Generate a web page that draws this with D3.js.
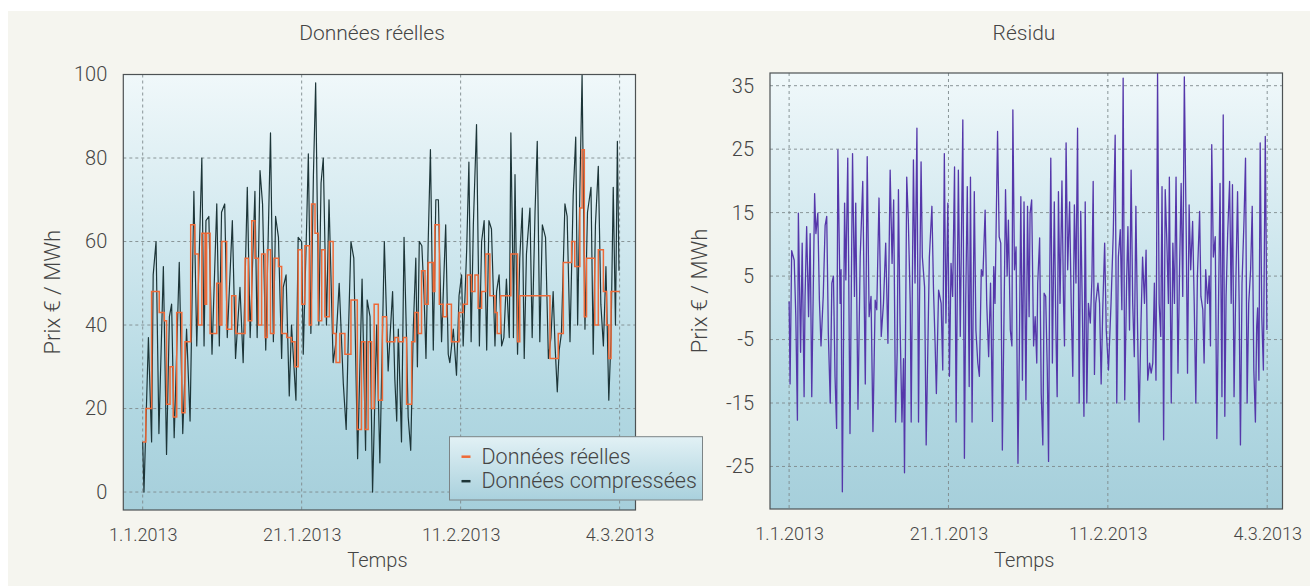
<!DOCTYPE html>
<html>
<head>
<meta charset="utf-8">
<script src="https://cdn.jsdelivr.net/npm/d3@7"></script>
<style>
  body { margin: 0; background: #f5f5ef; }
  svg text { font-family: Roboto, "Liberation Sans", Arial, sans-serif; font-weight: 300; fill: #454545; }
</style>
</head>
<body>
<svg id="chart" width="1310" height="586"></svg>
<script>
// x values are hours since 1.1.2013 00:00
const tickHours = [0, 500, 1000, 1500];
const tickLabels = ["1.1.2013", "21.1.2013", "11.2.2013", "4.3.2013"];
const priceTicks = [0, 20, 40, 60, 80, 100];
const residuTicks = [-25, -15, -5, 5, 15, 25, 35];

// Données compressées (dark line)
const compressed = [
    [0,12],[4,0],[18,37],[28,12],[33,52],[42,60],[51,14],[65,54],[75,9],[84,42],[91,45],[99,13],
    [115,55],[126,14],[138,39],[149,17],[161,72],[170,35],[186,80],[193,35],[199,65],[208,66],
    [218,33],[233,69],[241,35],[248,67],[258,69],[266,37],[282,65],[292,32],[306,49],[316,31],
    [329,73],[338,37],[353,72],[360,37],[369,77],[377,69],[387,34],[395,62],[402,86],[411,36],
    [418,66],[427,61],[437,32],[442,49],[451,52],[461,23],[468,40],[482,22],[489,61],[500,60],
    [505,33],[516,65],[521,81],[529,38],[537,76],[544,98],[554,40],[561,74],[568,80],[578,40],
    [586,70],[599,31],[608,36],[618,50],[631,26],[640,15],[647,38],[655,60],[664,56],[676,8],
    [690,51],[701,10],[706,46],[715,42],[723,0],[736,40],[746,7],[760,60],[772,29],[780,40],
    [786,48],[793,27],[799,17],[804,39],[814,12],[822,61],[830,36],[835,18],[843,10],[851,39],
    [859,56],[864,30],[870,60],[878,59],[885,47],[891,32],[898,60],[905,82],[914,34],[922,70],
    [930,70],[940,36],[953,64],[961,33],[966,31],[977,39],[987,28],[995,47],[1003,52],[1008,35],
    [1019,58],[1026,79],[1033,36],[1040,64],[1050,88],[1059,35],[1066,60],[1074,65],[1082,34],
    [1089,65],[1097,63],[1108,35],[1113,48],[1121,52],[1129,35],[1136,37],[1144,51],[1153,37],
    [1158,86],[1165,50],[1166,37],[1171,76],[1179,33],[1186,56],[1194,68],[1200,32],[1207,57],
    [1218,68],[1225,37],[1234,67],[1241,84],[1249,36],[1257,64],[1267,61],[1276,32],[1284,37],
    [1291,48],[1297,35],[1304,24],[1310,34],[1317,38],[1328,69],[1335,66],[1344,36],[1354,71],
    [1362,85],[1368,40],[1375,72],[1382,100],[1391,39],[1399,67],[1410,73],[1417,33],[1424,64],
    [1433,78],[1441,45],[1449,35],[1457,54],[1466,22],[1473,37],[1480,73],[1487,40],[1493,84],
    [1498,53]
];

// Données réelles (step line)
const real = [
    [0,12],[10,20],[28,48],[52,43],[68,41],[75,21],[86,30],[96,18],[107,43],[123,19],[133,36],
    [151,64],[164,57],[175,40],[186,62],[196,45],[201,62],[212,38],[233,50],[243,40],[249,60],
    [264,39],[280,47],[293,38],[322,56],[332,41],[343,65],[353,56],[364,40],[374,57],[385,37],
    [392,58],[402,38],[413,56],[427,54],[437,38],[453,37],[468,36],[479,30],[489,58],[500,45],
    [510,59],[524,40],[531,69],[542,62],[552,41],[563,58],[573,42],[587,60],[599,38],[608,31],
    [620,38],[636,33],[655,46],[675,15],[688,36],[699,15],[709,36],[720,20],[728,45],[741,22],
    [754,42],[767,36],[793,37],[804,36],[820,37],[830,21],[846,36],[856,43],[867,38],[877,53],
    [888,45],[898,55],[914,48],[919,64],[933,45],[945,42],[956,45],[971,36],[995,43],[1008,45],
    [1021,52],[1034,48],[1045,52],[1055,44],[1066,48],[1079,57],[1092,47],[1108,43],[1115,38],
    [1126,47],[1158,57],[1179,36],[1186,47],[1281,32],[1307,38],[1323,55],[1349,60],[1359,54],
    [1375,68],[1382,82],[1389,42],[1396,56],[1422,40],[1433,58],[1449,48],[1459,40],[1466,32],
    [1473,48],[1500,48]
];

// Résidu
const residu = [
    [0,1],[3,-12],[8,9],[16,7.5],[21,-1.4],[26,-17.7],[29,14.9],[36,-7],[41,10.2],[47,-14],
    [50,1.8],[55,12.8],[61,-1.4],[66,11.7],[71,-14],[80,18],[84,11.7],[90,14.9],[95,1.2],
    [100,-6],[107,1.8],[113,13],[118,14.4],[123,-4],[129,-15],[134,3.9],[139,5],[144,-10.8],
    [149,-19],[153,24.9],[160,0.7],[163,6],[167,-29],[174,16.5],[178,4.4],[184,23.6],
    [191,-19.8],[199,24.3],[205,1.8],[209,16.5],[216,-16],[223,8],[231,19.9],[239,-12],
    [245,23.8],[251,-1.4],[257,1.8],[263,-19.5],[270,1.2],[275,-0.3],[282,17.3],[289,-4.5],
    [296,0.7],[303,10.2],[310,-5.6],[317,21.7],[323,7],[328,17],[334,-18],[339,-7],[343,18.6],
    [348,-2.4],[354,-18],[359,-8],[362,-26],[369,20.6],[374,13.8],[380,0.7],[383,-18],
    [390,23.3],[395,3.9],[401,28.3],[406,-18],[409,0.2],[414,23],[418,8],[425,3.3],[430,-21.6],
    [435,-7],[440,8],[448,16],[453,2.8],[458,-5.6],[462,-13.5],[469,2.8],[477,0.7],[482,-9.8],
    [487,24.3],[492,-2.4],[498,16.5],[503,-10.8],[508,7],[513,1.8],[519,22.2],[524,-18],
    [531,21.7],[537,-4.5],[545,29.6],[550,-23.7],[554,0.7],[559,19.1],[565,-12.4],[569,20.6],
    [574,-18],[581,18.3],[586,-3.5],[592,-8.7],[597,-10.8],[603,6],[608,5],[615,15.4],[620,0.7],
    [626,-7.7],[632,3.9],[638,-17.9],[642,6.5],[646,0.7],[654,27.8],[659,11.2],[664,10.2],
    [669,-22.4],[676,6],[679,18.6],[684,5],[688,13.8],[694,-3.5],[699,-6],[702,31.2],[707,6],
    [712,9.6],[718,-24.5],[722,-8],[727,17.5],[732,-11.4],[737,16.7],[743,-14.5],[748,16],
    [753,-1.4],[756,14.9],[761,17],[767,-6],[772,-1.4],[777,-8.7],[780,3.9],[786,11],
    [791,-13.5],[796,-21.6],[800,2.3],[805,1.8],[810,-9.8],[814,-24.2],[817,0.7],[821,23.6],
    [826,-8.7],[832,16.7],[837,-3.5],[841,-14],[845,18.3],[850,0.7],[856,20],[861,0.7],
    [864,-6],[869,26],[874,6],[880,16.7],[885,0.7],[890,-10.8],[895,16.2],[900,3.9],[905,28.3],
    [910,-15],[915,15.2],[920,-0.3],[925,-17.1],[929,16.7],[934,-15],[939,0.7],[945,-2.4],
    [950,4.4],[954,19.9],[958,-10.5],[962,0.7],[969,3.9],[974,0.7],[979,-12],[984,-0.3],
    [990,10.2],[995,-3.5],[1002,-9.8],[1010,0.7],[1017,11.7],[1023,27.2],[1028,-15],[1033,8],
    [1039,12.3],[1044,-0.3],[1048,36.2],[1053,-14.5],[1059,4.4],[1063,12.8],[1068,-3.5],
    [1073,21.7],[1078,0.7],[1083,-7.7],[1088,16],[1093,-2.4],[1098,-18],[1104,-2.4],[1109,8],
    [1115,0.7],[1120,9.1],[1125,-11.4],[1131,-8.7],[1136,-10.3],[1141,-8.7],[1146,3.9],
    [1151,-11.4],[1156,36.9],[1161,0.7],[1166,-4.5],[1170,19.1],[1175,-20.8],[1180,18.6],
    [1185,10.7],[1190,0.7],[1193,20.6],[1199,-15],[1204,10.2],[1209,0.7],[1214,20.6],
    [1220,-10.3],[1225,6],[1230,19.6],[1235,1.8],[1240,36.4],[1246,11.2],[1250,-10.3],
    [1255,16.2],[1260,6],[1266,13.6],[1271,0.7],[1276,-15],[1281,5],[1288,15.2],[1292,1.8],
    [1298,-0.3],[1302,-8.7],[1307,6],[1313,0.7],[1318,5],[1322,-6],[1326,25.7],[1331,8],
    [1337,11.2],[1342,-20.6],[1347,-0.3],[1352,19.6],[1358,-14],[1362,30.4],[1367,-17.1],
    [1371,1.8],[1376,11.7],[1382,19.9],[1387,0.7],[1391,19.4],[1396,-14],[1402,5],[1407,18.3],
    [1412,0.7],[1416,-21.6],[1421,3.9],[1427,13.4],[1432,23.6],[1437,-15],[1442,0.7],[1448,6],
    [1453,16],[1458,-9.8],[1463,-18],[1467,-3],[1470,0],[1474,-11.4],[1478,26],[1483,-1.4],
    [1488,-9.8],[1494,27],[1499,-3.5]
];

const svg = d3.select("#chart");

// page paper
svg.append("rect").attr("width", 1310).attr("height", 586).attr("fill", "#f5f5ef");
svg.append("rect").attr("width", 1310).attr("height", 11).attr("fill", "#ffffff");
svg.append("rect").attr("width", 8).attr("height", 586).attr("fill", "#ffffff");

const defs = svg.append("defs");
const grad = defs.append("linearGradient")
    .attr("id", "plot-bg")
    .attr("x1", 0).attr("y1", 0).attr("x2", 0).attr("y2", 1);
grad.append("stop").attr("offset", "0%").attr("stop-color", "#f0f8fa");
grad.append("stop").attr("offset", "40%").attr("stop-color", "#cfe7ee");
grad.append("stop").attr("offset", "75%").attr("stop-color", "#b2d8e2");
grad.append("stop").attr("offset", "100%").attr("stop-color", "#a6cfdb");

const legendGrad = defs.append("linearGradient")
    .attr("id", "legend-bg")
    .attr("x1", 0).attr("y1", 0).attr("x2", 0).attr("y2", 1);
legendGrad.append("stop").attr("offset", "0%").attr("stop-color", "#e2f1f5");
legendGrad.append("stop").attr("offset", "100%").attr("stop-color", "#a9d1dd");

// plain hyphen for negative tick labels, as in the original
const hyphen = (d) => String(d);

function panel(opts) {
    const { id, left, right, top, bottom, xDomain, yDomain, yTicks, title, titleX } = opts;

    const x = d3.scaleLinear().domain(xDomain).range([left, right]);
    const y = d3.scaleLinear().domain(yDomain).range([bottom, top]);

    defs.append("clipPath")
        .attr("id", id + "-clip")
        .append("rect")
        .attr("x", left).attr("y", top)
        .attr("width", right - left).attr("height", bottom - top);

    svg.append("rect")
        .attr("x", left).attr("y", top)
        .attr("width", right - left).attr("height", bottom - top)
        .attr("fill", "url(#plot-bg)");

    // grid
    const grid = svg.append("g").attr("class", "grid");
    grid.selectAll("line.h")
        .data(yTicks)
        .enter()
        .append("line")
        .attr("x1", left).attr("x2", right)
        .attr("y1", (d) => y(d)).attr("y2", (d) => y(d))
        .attr("stroke", "#7f8a8c")
        .attr("stroke-width", 0.9)
        .attr("stroke-dasharray", "3,3");
    grid.selectAll("line.v")
        .data(tickHours)
        .enter()
        .append("line")
        .attr("x1", (d) => x(d)).attr("x2", (d) => x(d))
        .attr("y1", top).attr("y2", bottom)
        .attr("stroke", "#7f8a8c")
        .attr("stroke-width", 0.9)
        .attr("stroke-dasharray", "3,3");

    // axes, labels only
    const yAxis = svg.append("g")
        .attr("transform", `translate(${left},0)`)
        .call(d3.axisLeft(y).tickValues(yTicks).tickSize(0).tickPadding(16).tickFormat(hyphen));
    yAxis.select(".domain").remove();
    yAxis.selectAll("text").style("font-size", "20px");

    const xAxis = svg.append("g")
        .attr("transform", `translate(0,${bottom})`)
        .call(d3.axisBottom(x)
            .tickValues(tickHours)
            .tickSize(0)
            .tickPadding(18)
            .tickFormat((d, i) => tickLabels[i]));
    xAxis.select(".domain").remove();
    xAxis.selectAll("text").style("font-size", "18px");

    svg.append("text")
        .attr("x", titleX).attr("y", 40)
        .attr("text-anchor", "middle")
        .style("font-size", "21px")
        .text(title);

    svg.append("text")
        .attr("x", (left + right) / 2 - 2).attr("y", 567)
        .attr("text-anchor", "middle")
        .style("font-size", "20px")
        .text("Temps");

    svg.append("text")
        .attr("transform", `translate(${left - 63},${(top + bottom) / 2}) rotate(-90)`)
        .attr("text-anchor", "middle")
        .style("font-size", "22px")
        .text("Prix € / MWh");

    const plot = svg.append("g").attr("clip-path", `url(#${id}-clip)`);

    return { x, y, plot, frame: () =>
        svg.append("rect")
            .attr("x", left).attr("y", top)
            .attr("width", right - left).attr("height", bottom - top)
            .attr("fill", "none")
            .attr("stroke", "#4d5254")
            .attr("stroke-width", 1.2)
    };
}

// left panel: Données réelles
const p1 = panel({
    id: "left", left: 123.3, right: 635.5, top: 74.5, bottom: 510,
    xDomain: [-61, 1550], yDomain: [-4.3, 100], yTicks: priceTicks,
    title: "Données réelles", titleX: 372
});

p1.plot.append("path")
    .datum(compressed)
    .attr("fill", "none")
    .attr("stroke", "#1d3538")
    .attr("stroke-width", 1.2)
    .attr("stroke-linejoin", "round")
    .attr("d", d3.line().x((d) => p1.x(d[0])).y((d) => p1.y(d[1])));

p1.plot.append("path")
    .datum(real)
    .attr("fill", "none")
    .attr("stroke", "#ee6a38")
    .attr("stroke-width", 1.5)
    .attr("d", d3.line().curve(d3.curveStepAfter).x((d) => p1.x(d[0])).y((d) => p1.y(d[1])));
p1.frame();

// right panel: Résidu
const p2 = panel({
    id: "right", left: 770, right: 1282.5, top: 73, bottom: 509,
    xDomain: [-60, 1548], yDomain: [-31.7, 37], yTicks: residuTicks,
    title: "Résidu", titleX: 1024
});

p2.plot.append("path")
    .datum(residu)
    .attr("fill", "none")
    .attr("stroke", "#5537aa")
    .attr("stroke-width", 1.3)
    .attr("stroke-linejoin", "round")
    .attr("d", d3.line().x((d) => p2.x(d[0])).y((d) => p2.y(d[1])));
p2.frame();

// legend
const legendItems = [
    { label: "Données réelles", color: "#ee6a38" },
    { label: "Données compressées", color: "#1d3538" }
];
const legend = svg.append("g").attr("transform", "translate(449.5,436.7)");
legend.append("rect")
    .attr("width", 253).attr("height", 63.3)
    .attr("fill", "url(#legend-bg)")
    .attr("stroke", "#7c8486")
    .attr("stroke-width", 1);
const rows = legend.selectAll("g.item")
    .data(legendItems)
    .enter()
    .append("g")
    .attr("transform", (d, i) => `translate(0,${20 + i * 24.5})`);
rows.append("line")
    .attr("x1", 12).attr("x2", 21)
    .attr("stroke", (d) => d.color)
    .attr("stroke-width", 2.5);
rows.append("text")
    .attr("x", 32).attr("y", 7)
    .style("font-size", "21.5px")
    .text((d) => d.label);
</script>
</body>
</html>
